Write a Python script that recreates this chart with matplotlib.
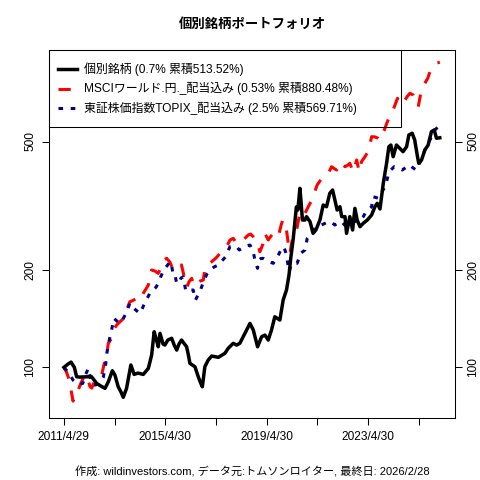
import matplotlib
matplotlib.use("Agg")
import matplotlib.pyplot as plt
from matplotlib.lines import Line2D
from matplotlib.patches import Rectangle

plt.rcParams['font.family'] = ['Liberation Sans', 'Noto Sans CJK JP', 'DejaVu Sans']

# ---------------- data (decimal year, index value; start = 100) ----------------
bk_t = [2011.33, 2011.49, 2011.61, 2011.74, 2011.83, 2011.96, 2012.23, 2012.42, 2012.62, 2012.79,
        2012.95, 2013.08, 2013.24, 2013.34, 2013.47, 2013.58, 2013.67, 2013.80, 2013.97, 2014.10,
        2014.25, 2014.46, 2014.66, 2014.79, 2014.89, 2014.98, 2015.05, 2015.12, 2015.24, 2015.31,
        2015.43, 2015.58, 2015.68, 2015.78, 2015.87, 2015.97, 2016.06, 2016.17, 2016.24, 2016.30,
        2016.50, 2016.63, 2016.71, 2016.79, 2016.89, 2017.02, 2017.16, 2017.42, 2017.68, 2017.81,
        2018.01, 2018.14, 2018.27, 2018.47, 2018.67, 2018.80, 2018.97, 2019.13, 2019.26, 2019.39,
        2019.52, 2019.65, 2019.85, 2019.98, 2020.11, 2020.21, 2020.28, 2020.38, 2020.50, 2020.56,
        2020.64, 2020.68, 2020.74, 2020.84, 2020.90, 2021.04, 2021.16, 2021.27, 2021.43, 2021.56,
        2021.69, 2021.82, 2021.93, 2022.02, 2022.11, 2022.22, 2022.29, 2022.42, 2022.48, 2022.61,
        2022.72, 2022.81, 2022.90, 2023.01, 2023.14, 2023.30, 2023.47, 2023.60, 2023.69, 2023.80,
        2023.93, 2024.06, 2024.15, 2024.23, 2024.32, 2024.45, 2024.58, 2024.71, 2024.85, 2024.94,
        2025.07, 2025.17, 2025.28, 2025.33, 2025.44, 2025.57, 2025.70, 2025.83, 2025.94, 2026.03,
        2026.16]
bk_v = [100.0, 102.4, 103.8, 100.0, 93.5, 93.3, 93.5, 93.5, 89.2, 87.5,
        86.1, 90.2, 97.6, 94.7, 87.1, 83.9, 80.8, 86.1, 101.7, 95.1,
        96.0, 95.1, 99.3, 109.2, 128.9, 121.5, 115.8, 127.4, 118.1, 117.2,
        121.5, 123.0, 117.2, 113.1, 118.1, 121.5, 118.9, 115.8, 109.2, 102.9,
        100.4, 93.5, 90.0, 87.1, 100.4, 105.3, 108.4, 107.4, 110.5, 114.5,
        118.7, 117.2, 118.7, 127.4, 136.8, 130.5, 115.8, 124.4, 125.9, 121.5,
        130.5, 143.4, 140.1, 161.6, 173.5, 193.1, 218.0, 251.3, 313.5, 306.9,
        358.3, 329.6, 285.8, 285.8, 292.7, 282.4, 259.9, 266.1, 285.8, 318.0,
        314.2, 345.7, 353.9, 329.6, 306.9, 314.2, 292.7, 292.7, 259.9, 292.7,
        266.1, 310.6, 285.8, 272.5, 279.2, 285.8, 296.2, 314.2, 321.9, 309.1,
        371.2, 428.1, 481.9, 487.7, 448.7, 487.7, 476.4, 465.0, 481.9, 523.9,
        530.4, 505.5, 448.7, 428.1, 438.3, 470.7, 487.7, 536.4, 543.0, 511.7,
        513.52]

ms_t = [2011.33, 2011.43, 2011.50, 2011.61, 2011.69, 2011.76, 2011.89, 2012.00, 2012.09, 2012.23,
        2012.36, 2012.43, 2012.55, 2012.68, 2012.82, 2012.92, 2013.01, 2013.08, 2013.21, 2013.28,
        2013.41, 2013.54, 2013.70, 2013.80, 2013.93, 2014.05, 2014.20, 2014.33, 2014.46, 2014.66,
        2014.79, 2014.92, 2015.05, 2015.18, 2015.27, 2015.38, 2015.51, 2015.64, 2015.78, 2015.97,
        2016.10, 2016.18, 2016.28, 2016.37, 2016.46, 2016.57, 2016.70, 2016.83, 2016.89, 2017.02,
        2017.16, 2017.33, 2017.49, 2017.62, 2017.75, 2017.88, 2018.01, 2018.14, 2018.27, 2018.40,
        2018.60, 2018.69, 2018.80, 2018.90, 2018.99, 2019.06, 2019.18, 2019.26, 2019.39, 2019.50,
        2019.59, 2019.69, 2019.79, 2019.89, 2019.96, 2020.05, 2020.11, 2020.18, 2020.25, 2020.31,
        2020.40, 2020.51, 2020.61, 2020.71, 2020.84, 2020.97, 2021.07, 2021.16, 2021.32, 2021.43,
        2021.56, 2021.76, 2021.89, 2022.02, 2022.09, 2022.15, 2022.29, 2022.42, 2022.54, 2022.61,
        2022.74, 2022.81, 2022.88, 2022.98, 2023.07, 2023.20, 2023.33, 2023.40, 2023.47, 2023.60,
        2023.73, 2023.80, 2023.87, 2023.97, 2024.12, 2024.23, 2024.32, 2024.49, 2024.60, 2024.72,
        2024.86, 2024.98, 2025.11, 2025.22, 2025.31, 2025.41, 2025.57, 2025.69, 2025.77, 2025.91,
        2026.03, 2026.16]
ms_v = [100.0, 96.7, 93.3, 85.0, 78.6, 82.7, 85.0, 89.4, 92.5, 94.7,
        87.1, 86.3, 91.3, 93.5, 94.7, 102.9, 107.8, 118.7, 123.0, 130.5,
        135.2, 138.4, 142.1, 150.4, 159.6, 161.0, 163.6, 161.6, 169.5, 179.8,
        200.1, 198.7, 195.4, 204.9, 214.9, 217.5, 211.8, 200.1, 204.9, 207.4,
        186.3, 177.3, 185.0, 188.6, 178.6, 182.0, 185.0, 186.3, 202.5, 208.8,
        212.3, 218.0, 225.4, 230.8, 236.3, 247.8, 250.8, 242.0, 244.3, 247.8,
        256.8, 258.6, 253.7, 247.8, 239.1, 228.0, 240.8, 259.9, 247.8, 255.0,
        259.9, 256.8, 253.7, 273.8, 285.8, 275.8, 266.1, 242.0, 225.4, 242.0,
        258.6, 266.1, 292.7, 285.8, 299.8, 314.2, 324.9, 337.4, 366.7, 377.3,
        389.1, 398.6, 417.9, 411.1, 408.2, 428.1, 426.1, 417.9, 423.1, 428.1,
        403.2, 420.1, 438.3, 403.2, 433.0, 447.9, 465.0, 487.7, 517.6, 516.7,
        511.7, 505.5, 523.9, 543.0, 583.2, 608.7, 626.2, 680.5, 653.5, 656.7,
        686.8, 705.3, 696.6, 667.6, 641.0, 705.3, 757.3, 786.4, 822.5, 856.6,
        873.3, 880.48]

tp_t = [2011.33, 2011.45, 2011.57, 2011.69, 2011.83, 2011.96, 2012.07, 2012.18, 2012.29, 2012.36,
        2012.42, 2012.51, 2012.59, 2012.71, 2012.81, 2012.88, 2012.97, 2013.01, 2013.10, 2013.21,
        2013.30, 2013.42, 2013.50, 2013.61, 2013.70, 2013.78, 2013.86, 2013.93, 2014.01, 2014.09,
        2014.21, 2014.33, 2014.43, 2014.53, 2014.63, 2014.72, 2014.84, 2014.96, 2015.06, 2015.14,
        2015.23, 2015.35, 2015.45, 2015.54, 2015.59, 2015.64, 2015.71, 2015.78, 2015.87, 2015.95,
        2016.04, 2016.13, 2016.23, 2016.34, 2016.43, 2016.52, 2016.62, 2016.71, 2016.79, 2016.86,
        2016.97, 2017.09, 2017.25, 2017.42, 2017.56, 2017.71, 2017.80, 2017.88, 2018.02, 2018.14,
        2018.25, 2018.36, 2018.51, 2018.67, 2018.80, 2018.88, 2018.97, 2019.02, 2019.10, 2019.19,
        2019.30, 2019.39, 2019.50, 2019.59, 2019.69, 2019.79, 2019.89, 2019.98, 2020.05, 2020.11,
        2020.17, 2020.22, 2020.28, 2020.35, 2020.44, 2020.53, 2020.67, 2020.84, 2020.93, 2021.06,
        2021.16, 2021.36, 2021.49, 2021.63, 2021.74, 2021.85, 2022.02, 2022.14, 2022.29, 2022.38,
        2022.48, 2022.61, 2022.71, 2022.81, 2023.01, 2023.14, 2023.22, 2023.33, 2023.47, 2023.53,
        2023.64, 2023.73, 2023.80, 2023.92, 2024.00, 2024.13, 2024.23, 2024.36, 2024.51, 2024.68,
        2024.83, 2024.96, 2025.11, 2025.22, 2025.31, 2025.39, 2025.49, 2025.57, 2025.67, 2025.77,
        2025.87, 2025.97, 2026.07, 2026.16]
tp_v = [100.0, 97.4, 94.7, 91.3, 89.2, 88.8, 89.2, 94.7, 99.3, 94.0,
        89.2, 88.2, 88.2, 90.0, 91.3, 93.1, 100.9, 109.2, 119.8, 130.5,
        141.8, 139.1, 137.1, 138.4, 143.1, 146.9, 152.6, 157.8, 155.9, 152.3,
        149.4, 146.9, 152.6, 159.6, 164.5, 169.5, 173.5, 176.9, 182.4, 189.9,
        197.2, 204.0, 208.8, 212.3, 204.4, 193.1, 193.1, 182.0, 182.4, 189.1,
        190.5, 173.5, 171.4, 173.5, 173.5, 161.6, 167.4, 172.9, 179.8, 186.3,
        194.4, 200.1, 204.4, 207.4, 213.4, 220.0, 229.1, 236.3, 237.4, 236.3,
        230.8, 233.6, 237.4, 239.1, 228.0, 211.8, 202.5, 214.9, 217.2, 217.5,
        214.9, 212.3, 211.1, 209.9, 216.4, 222.7, 230.8, 236.3, 230.8, 222.7,
        207.4, 197.7, 205.8, 209.9, 209.9, 209.9, 225.4, 230.8, 250.8, 258.6,
        266.1, 273.8, 275.8, 279.2, 281.8, 282.4, 275.8, 279.8, 282.4, 276.9,
        272.5, 279.2, 280.8, 282.4, 285.8, 292.7, 300.4, 306.9, 314.2, 337.4,
        335.5, 333.6, 341.5, 353.9, 362.3, 393.9, 408.2, 417.9, 414.1, 408.2,
        416.0, 423.1, 414.1, 408.2, 420.1, 433.0, 451.0, 470.7, 487.7, 505.5,
        523.9, 543.0, 553.3, 569.71]

series_labels = ["個別銘柄 (0.7% 累積513.52%)",
                 "MSCIワールド.円._配当込み (0.53% 累積880.48%)",
                 "東証株価指数TOPIX_配当込み (2.5% 累積569.71%)"]
series_colors = ["#000000", "#FF0000", "#00008B"]

xtick_pos = [2011.323, 2013.33, 2015.33, 2017.33, 2019.33, 2021.33, 2023.33, 2025.33]
xtick_lab = ["2011/4/29", "", "2015/4/30", "", "2019/4/30", "", "2023/4/30", ""]
ytick_pos = [100, 200, 500]
ytick_lab = ["100", "200", "500"]

title = "個別銘柄ポートフォリオ"
footer = "作成: wildinvestors.com, データ元:トムソンロイター, 最終日: 2026/2/28"

# ---------------- figure ----------------
W = H = 480
fig = plt.figure(figsize=(4.8, 4.8), dpi=100)
L, R, T, B = 49, 455, 50, 418
ax = fig.add_axes([L / W, 1 - B / H, (R - L) / W, (B - T) / H])

lw = 2.2
ax.plot(bk_t, bk_v, color=series_colors[0], lw=2.5, solid_joinstyle='round', zorder=3)
ax.plot(ms_t, ms_v, color=series_colors[1], lw=lw, linestyle=(0, (4, 4)), zorder=2)
ax.plot(tp_t, tp_v, color=series_colors[2], lw=lw, linestyle=(0, (1.5, 2.5)), zorder=2)

ax.set_yscale('log')
ax.set_xlim(2010.74, 2026.76)
ax.set_ylim(69.7, 960)
ax.yaxis.set_minor_locator(matplotlib.ticker.NullLocator())
ax.set_yticks(ytick_pos)
ax.set_yticklabels(ytick_lab)
ax.set_xticks(xtick_pos)
ax.set_xticklabels(xtick_lab)
ax.tick_params(axis='both', direction='out', length=5, width=0.75, labelsize=8.6, pad=4)
ax.tick_params(axis='y', right=True, labelright=True, labelrotation=90)
for lab in ax.get_yticklabels():
    lab.set_va('center')
for sp in ax.spines.values():
    sp.set_linewidth(0.75)

# legend box (manual, like R's legend)
def ax_xy(px, py):
    return ((px - L) / (R - L), (B - py) / (B - T))

x0, y0 = ax_xy(49, 127)
x1, y1 = ax_xy(401, 50)
ax.add_patch(Rectangle((x0, y0), x1 - x0, y1 - y0, transform=ax.transAxes,
                       fill=False, edgecolor='black', lw=0.75, zorder=5, clip_on=False))
rows = [69, 88.5, 108]
styles = [dict(lw=2.5), dict(lw=lw, linestyle=(0, (4, 4))), dict(lw=lw, linestyle=(0, (1.5, 2.5)))]
for lab, col, st, ry in zip(series_labels, series_colors, styles, rows):
    xa, ya = ax_xy(57.5, ry)
    xb, _ = ax_xy(77, ry)
    ax.add_line(Line2D([xa, xb], [ya, ya], color=col, transform=ax.transAxes, zorder=6, **st))
    xt, _ = ax_xy(84, ry)
    ax.text(xt, ya, lab, transform=ax.transAxes, fontsize=8.6, va='center', ha='left', zorder=6)

fig.text(252 / W, 1 - 25 / H, title, fontsize=9.6, fontweight='bold', ha='center', va='center')
fig.text(252 / W, 1 - 472 / H, footer, fontsize=8.0, ha='center', va='center')

fig.savefig("out.png", dpi=100)
